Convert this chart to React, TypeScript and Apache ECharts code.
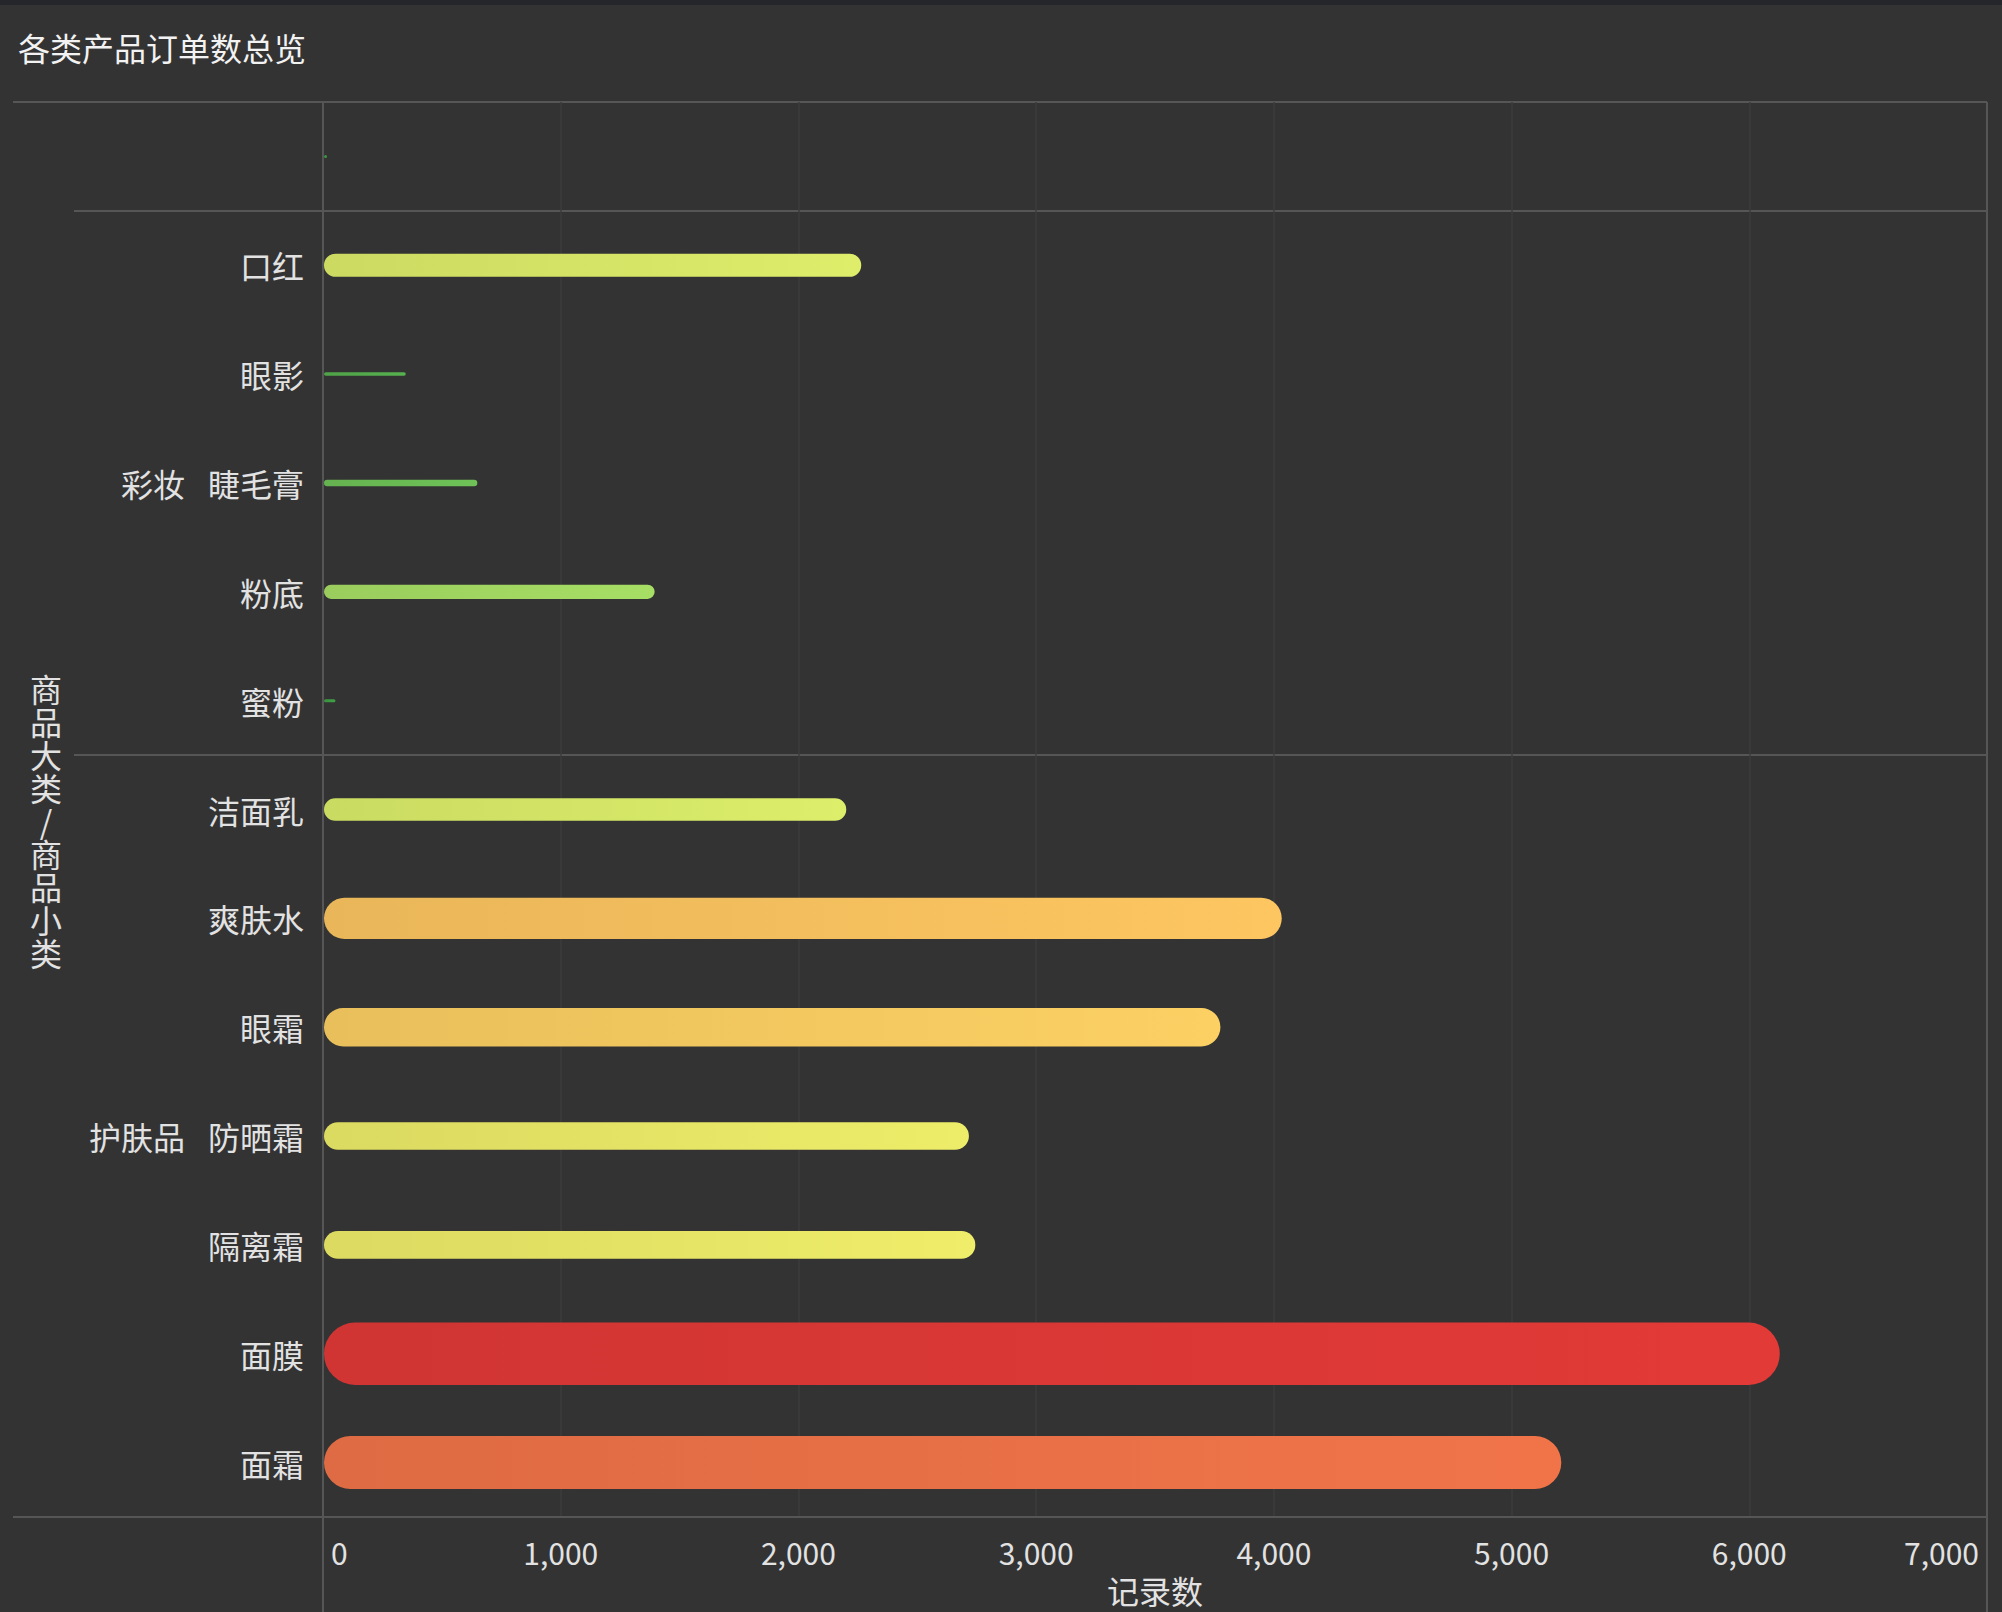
import React, { useEffect, useRef } from 'react';
import * as echarts from 'echarts';

// ---- data ----
const chartTitle = '各类产品订单数总览';
const yAxisTitle = '商品大类/商品小类';
const xAxisTitle = '记录数';
const subCategories = ['', '口红', '眼影', '睫毛膏', '粉底', '蜜粉', '洁面乳', '爽肤水', '眼霜', '防晒霜', '隔离霜', '面膜', '面霜'];
const majorCategories = ['', '彩妆', '彩妆', '彩妆', '彩妆', '彩妆', '护肤品', '护肤品', '护肤品', '护肤品', '护肤品', '护肤品', '护肤品'];
const orderCounts = [8, 2260, 344, 645, 1391, 48, 2197, 4029, 3771, 2713, 2740, 6124, 5205];
const xMin = 0;
const xMax = 7000;
const xInterval = 1000;

// ---- styles ----
const FONT = "'Noto Sans CJK SC', 'Microsoft YaHei', sans-serif";
const TEXT = '#e2e2e2';
const BORDER = '#565656';
const GRIDLINE = '#3c3c3c';
const colorRamp = ['#3a9e44', '#8ad661', '#d5ee6b', '#f8ec68', '#fdc862', '#f5834e', '#e23a37'];
const BAR_PX_PER_UNIT = 0.0102;
const MIN_BAR_PX = 3;

// group helpers
const isGroupStart = (i: number) => i > 0 && majorCategories[i] !== majorCategories[i - 1];
const groupLabelIndex: Record<number, string> = {};
(() => {
  let s = 0;
  for (let i = 1; i <= majorCategories.length; i++) {
    if (i === majorCategories.length || majorCategories[i] !== majorCategories[s]) {
      const mid = s + Math.floor((i - 1 - s) / 2);
      groupLabelIndex[mid] = majorCategories[s];
      s = i;
    }
  }
})();

export default function App() {
  const ref = useRef<HTMLDivElement>(null);
  useEffect(() => {
    if (!ref.current) return;
    const chart = echarts.init(ref.current, undefined, { renderer: 'svg' });
    const option: any = {
      animation: false,
      backgroundColor: '#333333',
      textStyle: { fontFamily: FONT },
      title: {
        text: chartTitle,
        left: 18,
        top: 31,
        padding: 0,
        textStyle: { color: '#f2f2f2', fontSize: 32, fontWeight: 'normal', fontFamily: FONT },
      },
      graphic: [
        { type: 'rect', left: 0, top: 0, shape: { width: 2002, height: 5 }, style: { fill: '#25262b' }, silent: true },
      ],
      grid: { left: 323, right: 15, top: 102, bottom: 95, containLabel: false, outerBoundsMode: 'none' },
      visualMap: {
        show: false,
        type: 'continuous',
        min: 0,
        max: 6000,
        dimension: 0,
        seriesIndex: 0,
        inRange: { color: colorRamp },
      },
      xAxis: [
        {
          type: 'value',
          min: xMin,
          max: xMax,
          interval: xInterval,
          position: 'bottom',
          axisLine: { show: true, lineStyle: { color: BORDER, width: 2 } },
          axisTick: { show: false },
          axisLabel: {
            color: TEXT,
            fontSize: 30,
            fontFamily: FONT,
            margin: 20,
            padding: [0, 8, 0, 8],
            alignMinLabel: 'left',
            alignMaxLabel: 'right',
            formatter: (v: number) => echarts.format.addCommas(v),
          },
          splitLine: { show: true, lineStyle: { color: GRIDLINE, width: 1.5 } },
          name: xAxisTitle,
          nameLocation: 'middle',
          nameGap: 57,
          nameMoveOverlap: false,
          nameTextStyle: { color: TEXT, fontSize: 32, fontFamily: FONT },
        },
        {
          type: 'value',
          min: xMin,
          max: xMax,
          interval: xMax - xMin,
          position: 'bottom',
          axisLine: { show: false },
          axisLabel: { show: false },
          axisTick: { show: true, length: 95, lineStyle: { color: BORDER, width: 2 } },
          splitLine: { show: true, lineStyle: { color: BORDER, width: 2 } },
        },
      ],
      yAxis: [
        {
          type: 'category',
          data: subCategories,
          inverse: true,
          position: 'left',
          axisLine: { show: true, lineStyle: { color: BORDER, width: 2 } },
          axisTick: { show: false },
          axisLabel: { color: TEXT, fontSize: 32, fontFamily: FONT, margin: 19, interval: 0 },
          splitLine: { show: false },
          name: '{s| }\n' + yAxisTitle.split('').join('\n'),
          nameLocation: 'middle',
          nameRotate: 0,
          nameGap: 277,
          nameMoveOverlap: false,
          nameTextStyle: {
            color: TEXT,
            fontSize: 32,
            fontFamily: FONT,
            lineHeight: 33,
            align: 'center',
            verticalAlign: 'middle',
            rich: { s: { fontSize: 8, lineHeight: 20 } },
          },
        },
        {
          type: 'category',
          data: subCategories,
          inverse: true,
          position: 'left',
          offset: 0,
          axisLine: { show: false },
          axisTick: { show: true, length: 249, interval: (i: number) => isGroupStart(i), lineStyle: { color: BORDER, width: 2 } },
          axisLabel: {
            show: true,
            interval: 0,
            margin: 138,
            color: TEXT,
            fontSize: 32,
            fontFamily: FONT,
            formatter: (_v: string, i: number) => groupLabelIndex[i] || '',
          },
          splitLine: { show: true, interval: (i: number) => isGroupStart(i), lineStyle: { color: BORDER, width: 2 } },
        },
        {
          type: 'category',
          data: subCategories,
          inverse: true,
          position: 'left',
          offset: 0,
          axisLine: { show: false },
          axisLabel: { show: false },
          axisTick: { show: true, length: 310, interval: (i: number) => i === 0, lineStyle: { color: BORDER, width: 2 } },
          splitLine: { show: true, interval: (i: number) => i === 0, lineStyle: { color: BORDER, width: 2 } },
        },
      ],
      series: [
        {
          type: 'custom',
          name: xAxisTitle,
          xAxisIndex: 0,
          yAxisIndex: 0,
          encode: { x: 0, y: 1 },
          data: orderCounts.map((v, i) => [v, i]),
          renderItem: (_params: any, api: any) => {
            const v = api.value(0);
            const cat = api.value(1);
            const start = api.coord([0, cat]);
            const end = api.coord([v, cat]);
            const h = Math.max(MIN_BAR_PX, v * BAR_PX_PER_UNIT);
            const color = api.visual('color');
            const c = echarts.color.parse(color) || [100, 180, 80, 1];
            const dark = `rgb(${Math.round(c[0] * 0.92)},${Math.round(c[1] * 0.92)},${Math.round(c[2] * 0.92)})`;
            const w = Math.max(end[0] - start[0], h);
            return {
              type: 'rect',
              shape: { x: start[0] + 1, y: start[1] - h / 2, width: w, height: h, r: h / 2 },
              style: {
                fill: {
                  type: 'linear',
                  x: 0,
                  y: 0,
                  x2: 1,
                  y2: 0,
                  colorStops: [
                    { offset: 0, color: dark },
                    { offset: 1, color },
                  ],
                },
              },
            };
          },
          z: 5,
        },
      ],
    };
    chart.setOption(option);
    return () => chart.dispose();
  }, []);
  return <div ref={ref} style={{ position: 'fixed', left: 0, top: 0, width: 2002, height: 1612 }} />;
}
